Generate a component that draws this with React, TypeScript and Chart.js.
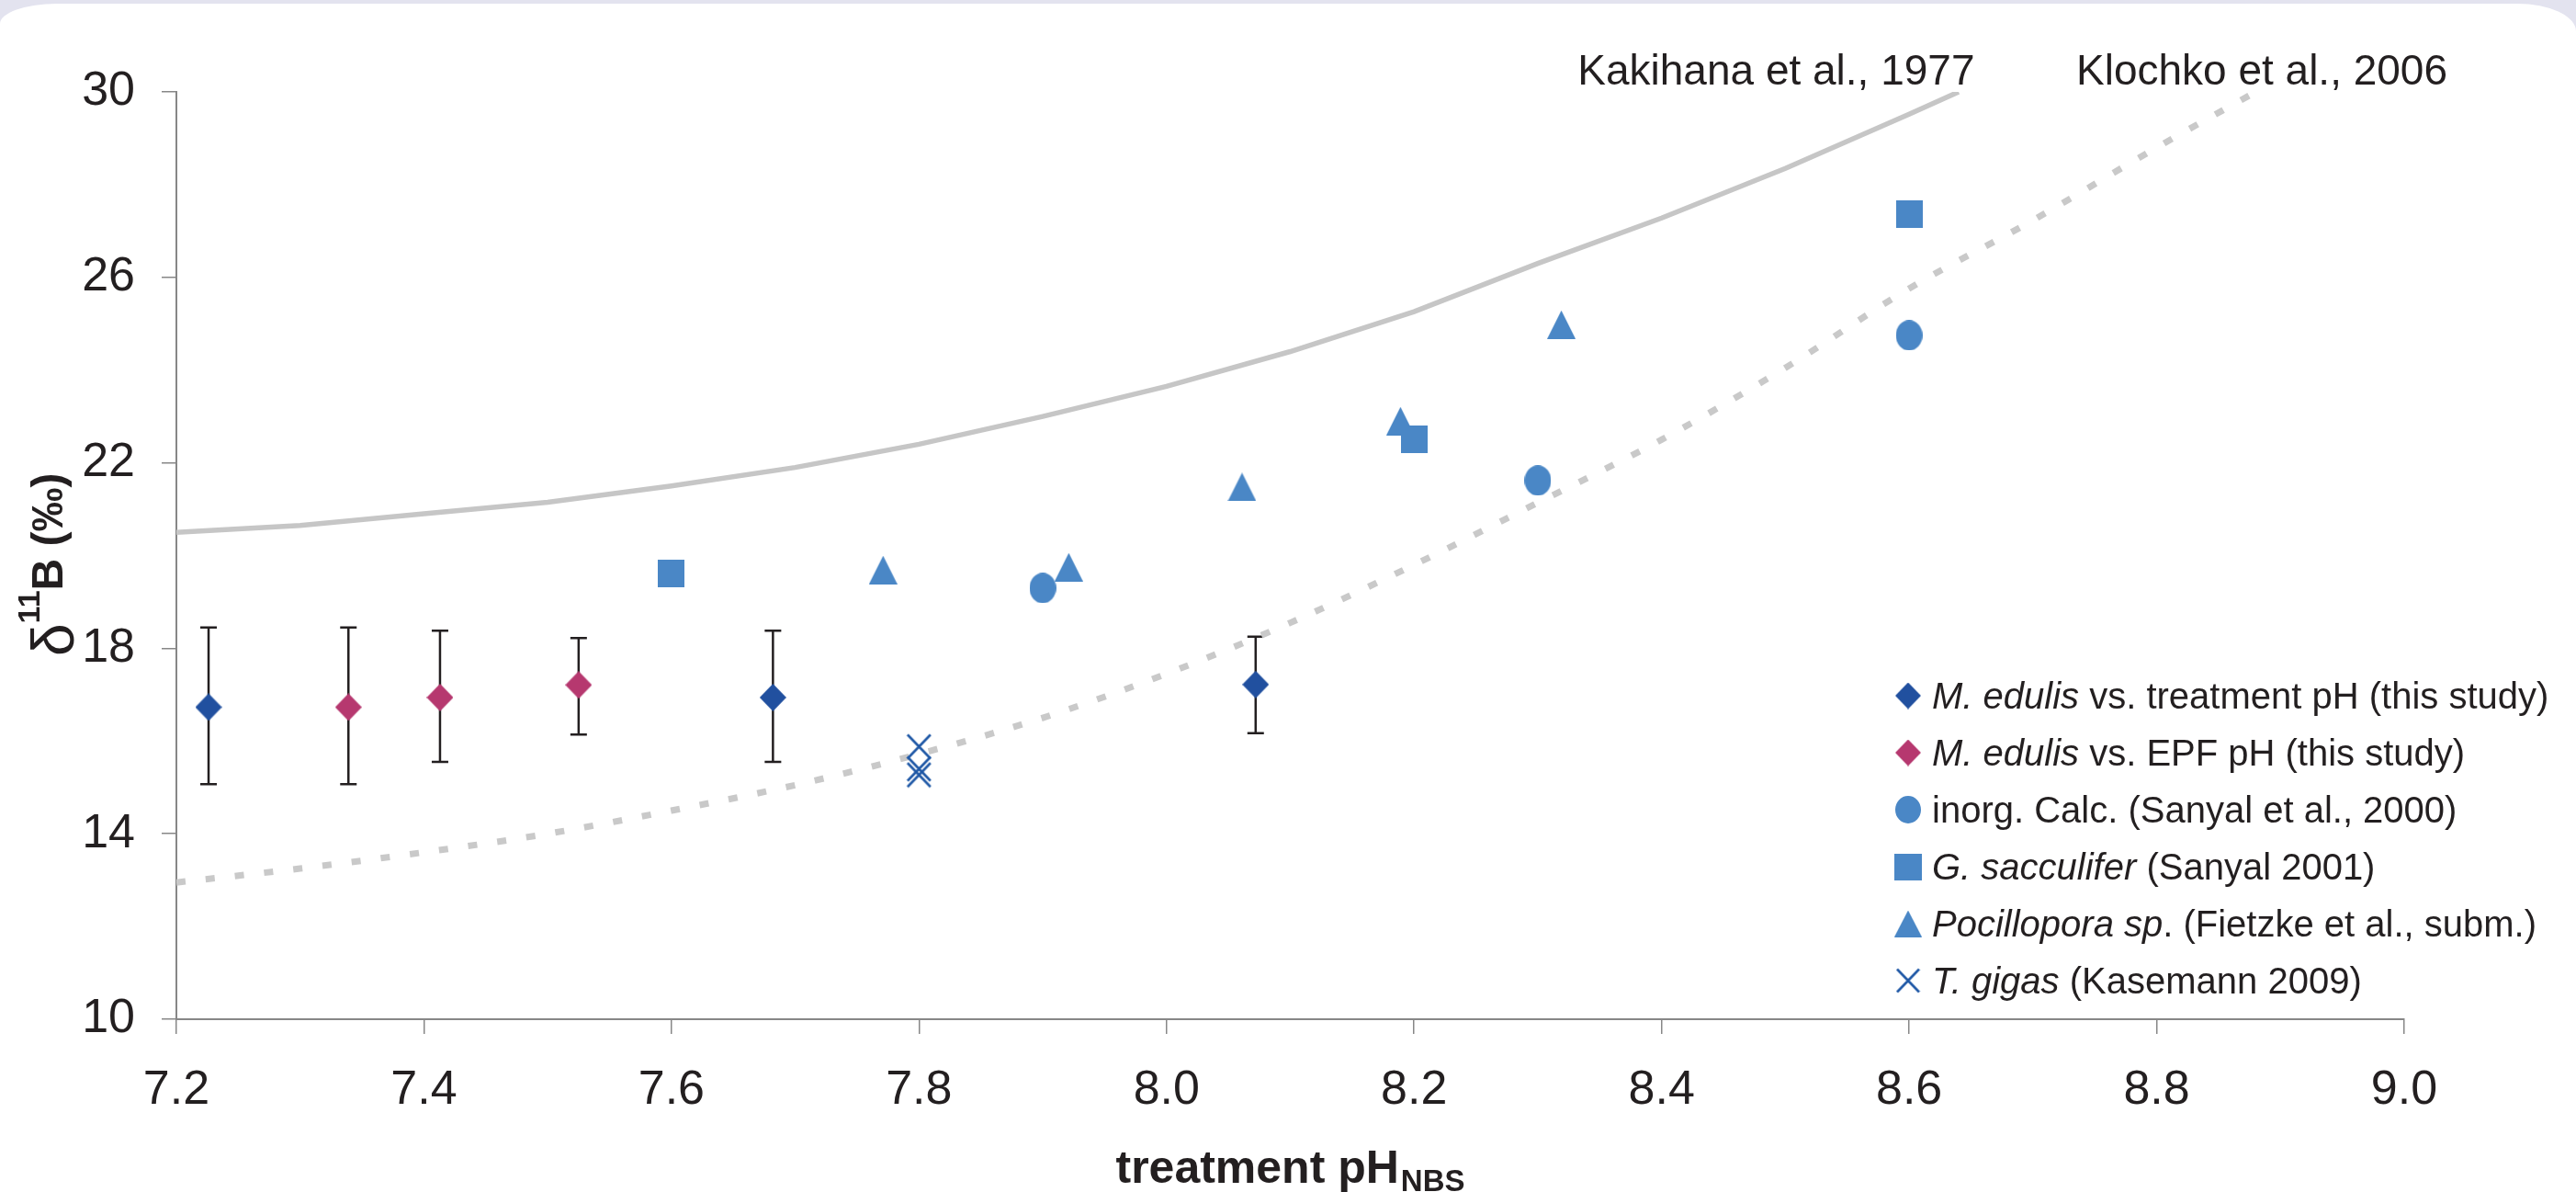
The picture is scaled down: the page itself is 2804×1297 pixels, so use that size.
import React, { useEffect, useRef } from 'react';
import { Chart, registerables } from 'chart.js';

Chart.register(...registerables);

const FONT = '"Liberation Sans", Arial, Helvetica, sans-serif';
const TEXT = '#231f20';
const AXIS = '#878787';
const LINE_GRAY = '#c6c6c6';
const C_TREAT = '#21509f';
const C_EPF = '#b6386f';
const C_BLUE = '#4a87c6';
const C_GIGAS = '#1f58a6';

// Reference curves
const kakihanaPH = [7.2, 7.3, 7.4, 7.5, 7.6, 7.7, 7.8, 7.9, 8.0, 8.1, 8.2, 8.3, 8.4, 8.5, 8.6, 8.64];
const kakihanaD11B = [20.5, 20.65, 20.9, 21.15, 21.5, 21.9, 22.4, 23.0, 23.65, 24.4, 25.26, 26.3, 27.28, 28.35, 29.52, 30.0];

const klochkoPH = [7.2, 7.3, 7.4, 7.5, 7.6, 7.7, 7.8, 7.9, 8.0, 8.1, 8.2, 8.3, 8.4, 8.5, 8.6, 8.7, 8.8, 8.88];
const klochkoD11B = [12.95, 13.25, 13.6, 14.0, 14.5, 15.05, 15.72, 16.5, 17.45, 18.55, 19.8, 21.14, 22.5, 24.05, 25.76, 27.23, 28.8, 30.0];

// M. edulis vs treatment pH
const treatPH = [7.226, 7.682, 8.072];
const treatD11B = [16.73, 16.94, 17.22];
const treatErrHigh = [18.45, 18.38, 18.25];
const treatErrLow = [15.07, 15.55, 16.17];

// M. edulis vs EPF pH
const epfPH = [7.339, 7.413, 7.525];
const epfD11B = [16.73, 16.94, 17.21];
const epfErrHigh = [18.45, 18.38, 18.22];
const epfErrLow = [15.07, 15.55, 16.14];

// inorg. Calc.
const calcPH = [7.9, 8.3, 8.6];
const calcD11B = [19.3, 21.62, 24.75];

// G. sacculifer
const saccPH = [7.6, 8.2, 8.6];
const saccD11B = [19.61, 22.51, 27.36];

// Pocillopora sp.
const pociPH = [7.771, 7.921, 8.061, 8.189, 8.319];
const pociD11B = [19.69, 19.75, 21.48, 22.9, 24.98];

// T. gigas
const gigasPH = [7.8, 7.8, 7.8];
const gigasD11B = [15.88, 15.4, 15.27];

const xTicksStep = 0.2;
const yTicksStep = 4;

const legendLabels: [string, boolean][][] = [
  [['M. edulis', true], [' vs. treatment pH (this study)', false]],
  [['M. edulis', true], [' vs. EPF pH (this study)', false]],
  [['inorg. Calc. (Sanyal et al., 2000)', false]],
  [['G. sacculifer', true], [' (Sanyal 2001)', false]],
  [['Pocillopora sp', true], ['. (Fietzke et al., subm.)', false]],
  [['T. gigas', true], [' (Kasemann 2009)', false]],
];

const curveLabels = ['Kakihana et al., 1977', 'Klochko et al., 2006'];
const curveLabelPH = [8.653, 8.735];
const curveLabelAlign: CanvasTextAlign[] = ['right', 'left'];
const curveLabelD11B = 30.16;

const pts = (xs: number[], ys: number[]) => xs.map((x, i) => ({ x, y: ys[i] }));

function makeMarker(kind: string, color: string, w: number, h: number): HTMLCanvasElement {
  const c = document.createElement('canvas');
  c.width = w;
  c.height = h;
  const g = c.getContext('2d')!;
  g.fillStyle = color;
  g.strokeStyle = color;
  g.beginPath();
  if (kind === 'diamond') {
    g.moveTo(w / 2, 0); g.lineTo(w, h / 2); g.lineTo(w / 2, h); g.lineTo(0, h / 2); g.closePath(); g.fill();
  } else if (kind === 'oval') {
    g.ellipse(w / 2, h / 2, w / 2, h / 2, 0, 0, Math.PI * 2); g.fill();
  } else if (kind === 'square') {
    g.rect(0, 0, w, h); g.fill();
  } else if (kind === 'triangle') {
    g.moveTo(w / 2, 0); g.lineTo(w, h); g.lineTo(0, h); g.closePath(); g.fill();
  } else if (kind === 'cross') {
    g.lineWidth = 2.6;
    g.moveTo(1.5, 1.5); g.lineTo(w - 1.5, h - 1.5);
    g.moveTo(w - 1.5, 1.5); g.lineTo(1.5, h - 1.5);
    g.stroke();
  }
  return c;
}

export default function App() {
  const ref = useRef<HTMLCanvasElement>(null);

  useEffect(() => {
    const canvas = ref.current!;
    const mk = {
      treat: makeMarker('diamond', C_TREAT, 29, 30),
      epf: makeMarker('diamond', C_EPF, 29, 30),
      calc: makeMarker('oval', C_BLUE, 29, 33),
      sacc: makeMarker('square', C_BLUE, 29, 30),
      poci: makeMarker('triangle', C_BLUE, 31, 31),
      gigas: makeMarker('cross', C_GIGAS, 28, 29),
    };
    const legendMarkers = [
      makeMarker('diamond', C_TREAT, 28, 29),
      makeMarker('diamond', C_EPF, 28, 29),
      makeMarker('oval', C_BLUE, 28, 30),
      makeMarker('square', C_BLUE, 30, 29),
      makeMarker('triangle', C_BLUE, 30, 29),
      makeMarker('cross', C_GIGAS, 27, 28),
    ];

    const errorBars = {
      id: 'errorBars',
      beforeDatasetsDraw(chart: any) {
        const { ctx, scales } = chart;
        const xs = scales.x, ys = scales.y;
        ctx.save();
        ctx.strokeStyle = TEXT;
        ctx.lineWidth = 2.5;
        chart.data.datasets.forEach((ds: any) => {
          if (!ds.errLow) return;
          ds.data.forEach((p: any, j: number) => {
            const px = xs.getPixelForValue(p.x);
            const yh = ys.getPixelForValue(ds.errHigh[j]);
            const yl = ys.getPixelForValue(ds.errLow[j]);
            ctx.beginPath();
            ctx.moveTo(px, yh); ctx.lineTo(px, yl);
            ctx.moveTo(px - 9, yh); ctx.lineTo(px + 9, yh);
            ctx.moveTo(px - 9, yl); ctx.lineTo(px + 9, yl);
            ctx.stroke();
          });
        });
        ctx.restore();
      },
    };

    const decorations = {
      id: 'decorations',
      afterDraw(chart: any) {
        const { ctx, chartArea, scales } = chart;
        ctx.save();
        ctx.fillStyle = TEXT;
        ctx.textBaseline = 'alphabetic';

        // curve labels
        ctx.font = `46px ${FONT}`;
        curveLabels.forEach((t, i) => {
          ctx.textAlign = curveLabelAlign[i];
          ctx.fillText(t, scales.x.getPixelForValue(curveLabelPH[i]), scales.y.getPixelForValue(curveLabelD11B));
        });

        // x title
        ctx.textAlign = 'left';
        ctx.font = `bold 50px ${FONT}`;
        const w1 = ctx.measureText('treatment pH').width;
        ctx.font = `bold 33px ${FONT}`;
        const w2 = ctx.measureText('NBS').width;
        const cx = (chartArea.left + chartArea.right) / 2;
        const sx = cx - (w1 + w2 + 2) / 2;
        ctx.font = `bold 50px ${FONT}`;
        ctx.fillText('treatment pH', sx, 1287);
        ctx.font = `bold 33px ${FONT}`;
        ctx.fillText('NBS', sx + w1 + 2, 1296);

        // y title
        ctx.save();
        ctx.translate(68, 714);
        ctx.rotate(-Math.PI / 2);
        let px = 0;
        ctx.font = `64px ${FONT}`;
        ctx.fillText('δ', px, 12);
        px += ctx.measureText('δ').width;
        ctx.font = `bold 34px ${FONT}`;
        ctx.fillText('11', px, -25);
        px += ctx.measureText('11').width;
        ctx.font = `bold 48px ${FONT}`;
        ctx.fillText('B (‰)', px, 0);
        ctx.restore();

        // legend
        const mx = 2077;
        const tx = 2103;
        legendLabels.forEach((parts, i) => {
          const cy = 757 + i * 62;
          const m = legendMarkers[i];
          ctx.drawImage(m, mx - m.width / 2, cy - m.height / 2);
          let x = tx;
          parts.forEach(([t, it]) => {
            ctx.font = `${it ? 'italic ' : ''}40px ${FONT}`;
            ctx.fillText(t, x, cy + 14);
            x += ctx.measureText(t).width;
          });
        });
        ctx.restore();
      },
    };

    const scatter = (label: string, data: any[], style: HTMLCanvasElement, extra: any = {}) => ({
      label,
      data,
      pointStyle: style,
      pointRadius: 15,
      pointHoverRadius: 15,
      showLine: false,
      ...extra,
    });

    const chart = new Chart(canvas, {
      type: 'scatter',
      data: {
        datasets: [
          scatter('M. edulis vs. treatment pH (this study)', pts(treatPH, treatD11B), mk.treat, { errHigh: treatErrHigh, errLow: treatErrLow }),
          scatter('M. edulis vs. EPF pH (this study)', pts(epfPH, epfD11B), mk.epf, { errHigh: epfErrHigh, errLow: epfErrLow }),
          scatter('inorg. Calc. (Sanyal et al., 2000)', pts(calcPH, calcD11B), mk.calc),
          scatter('G. sacculifer (Sanyal 2001)', pts(saccPH, saccD11B), mk.sacc),
          scatter('Pocillopora sp. (Fietzke et al., subm.)', pts(pociPH, pociD11B), mk.poci),
          scatter('T. gigas (Kasemann 2009)', pts(gigasPH, gigasD11B), mk.gigas),
          {
            label: 'Kakihana et al., 1977',
            data: pts(kakihanaPH, kakihanaD11B),
            showLine: true,
            pointRadius: 0,
            borderColor: LINE_GRAY,
            borderWidth: 5.5,
            tension: 0,
          } as any,
          {
            label: 'Klochko et al., 2006',
            data: pts(klochkoPH, klochkoD11B),
            showLine: true,
            pointRadius: 0,
            borderColor: '#c9c9c9',
            borderWidth: 7,
            borderDash: [10, 22],
            borderCapStyle: 'butt',
            cubicInterpolationMode: 'monotone',
          } as any,
        ] as any,
      },
      options: {
        responsive: false,
        devicePixelRatio: 1,
        animation: false,
        events: [],
        layout: { padding: { left: 0, top: 100, right: 187, bottom: 0 } },
        plugins: {
          legend: { display: false },
          tooltip: { enabled: false },
          title: { display: false },
        },
        scales: {
          x: {
            type: 'linear',
            min: 7.2,
            max: 9.0,
            afterFit: (s: any) => { s.height = 188; },
            border: { display: true, color: AXIS, width: 2 },
            grid: { display: true, drawOnChartArea: false, drawTicks: true, tickLength: 16, color: AXIS, lineWidth: 1.5 },
            ticks: {
              stepSize: xTicksStep,
              padding: 30,
              color: TEXT,
              font: { family: FONT, size: 52 },
              maxRotation: 0,
              autoSkip: false,
              callback: (v: any) => Number(v).toFixed(1),
            },
          },
          y: {
            type: 'linear',
            min: 10,
            max: 30,
            afterFit: (s: any) => { s.width = 192; },
            border: { display: true, color: AXIS, width: 2 },
            grid: { display: true, drawOnChartArea: false, drawTicks: true, tickLength: 16, color: AXIS, lineWidth: 1.5 },
            ticks: {
              stepSize: yTicksStep,
              padding: 29,
              color: TEXT,
              font: { family: FONT, size: 52 },
              autoSkip: false,
              callback: (v: any) => String(v),
            },
          },
        },
      } as any,
      plugins: [errorBars, decorations],
    });
    return () => chart.destroy();
  }, []);

  return (
    <div style={{ position: 'fixed', left: 0, top: 0, width: 2804, height: 1297, background: '#e3e3ef', overflow: 'hidden' }}>
      <div style={{ position: 'absolute', left: 0, top: 4, width: 2804, height: 1293, background: '#ffffff', borderRadius: '62px 64px 0 0 / 22px 30px 0 0' }} />
      <canvas ref={ref} width={2804} height={1297} style={{ position: 'absolute', left: 0, top: 0, width: 2804, height: 1297 }} />
    </div>
  );
}
